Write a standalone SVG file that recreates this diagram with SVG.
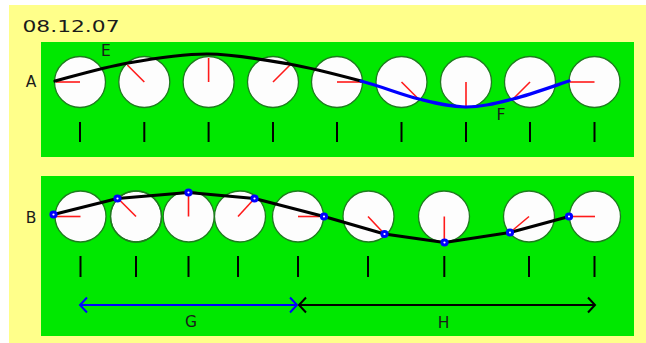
<svg xmlns="http://www.w3.org/2000/svg" width="646" height="343" viewBox="0 0 646 343">
<defs>
<style>
.bg{fill:#ffff8a}
.panel{fill:#00e800}
.wheel{fill:#fdfdfd;stroke:#1f7a1f;stroke-width:1.3}
.hand{stroke:#ff1a1a;stroke-width:1.6;fill:none}
.tick{stroke:#000;stroke-width:2}
.lbl{font-family:"DejaVu Sans","Liberation Sans",sans-serif;font-size:15.5px;fill:#1a1a1a}
.wave{fill:none;stroke-width:3.2;stroke-linejoin:round;stroke-linecap:round}
.dot{fill:#fff;stroke:#0000ff;stroke-width:3}
</style>
<marker id="hb" viewBox="-10 -10 20 20" markerWidth="20" markerHeight="20" markerUnits="userSpaceOnUse" orient="auto-start-reverse" refX="0" refY="0">
<path d="M-7,-7.5 L0,0 L-7,7.5" fill="none" stroke="#0000ff" stroke-width="2"/>
</marker>
<marker id="hk" viewBox="-10 -10 20 20" markerWidth="20" markerHeight="20" markerUnits="userSpaceOnUse" orient="auto-start-reverse" refX="0" refY="0">
<path d="M-7,-7.5 L0,0 L-7,7.5" fill="none" stroke="#000" stroke-width="2"/>
</marker>
</defs>
<rect class="bg" x="9" y="5" width="637" height="338"/>
<text class="lbl" x="22.5" y="32" textLength="97" lengthAdjust="spacingAndGlyphs">08.12.07</text>
<rect id="panelA" class="panel" x="41" y="42" width="593" height="115"/>
<rect id="panelB" class="panel" x="41" y="176" width="593" height="160"/>
<text class="lbl" x="31" y="87" text-anchor="middle">A</text>
<text class="lbl" x="31" y="223" text-anchor="middle">B</text>

<g id="nodesA">
<g id="a1"><circle class="wheel" cx="80" cy="82" r="25.5"/><line class="hand" x1="80" y1="82" x2="56" y2="82"/><line class="tick" x1="80" y1="122" x2="80" y2="142"/></g>
<g id="a2"><circle class="wheel" cx="144.3" cy="82" r="25.5"/><line class="hand" x1="144.3" y1="82" x2="127.3" y2="65"/><line class="tick" x1="144.3" y1="122" x2="144.3" y2="142"/></g>
<g id="a3"><circle class="wheel" cx="208.6" cy="82" r="25.5"/><line class="hand" x1="208.6" y1="82" x2="208.6" y2="58"/><line class="tick" x1="208.6" y1="122" x2="208.6" y2="142"/></g>
<g id="a4"><circle class="wheel" cx="273" cy="82" r="25.5"/><line class="hand" x1="273" y1="82" x2="290" y2="65"/><line class="tick" x1="273" y1="122" x2="273" y2="142"/></g>
<g id="a5"><circle class="wheel" cx="337" cy="82" r="25.5"/><line class="hand" x1="337" y1="82" x2="361" y2="82"/><line class="tick" x1="337" y1="122" x2="337" y2="142"/></g>
<g id="a6"><circle class="wheel" cx="401.5" cy="82" r="25.5"/><line class="hand" x1="401.5" y1="82" x2="418.5" y2="99"/><line class="tick" x1="401.5" y1="122" x2="401.5" y2="142"/></g>
<g id="a7"><circle class="wheel" cx="466" cy="82" r="25.5"/><line class="hand" x1="466" y1="82" x2="466" y2="106"/><line class="tick" x1="466" y1="122" x2="466" y2="142"/></g>
<g id="a8"><circle class="wheel" cx="530" cy="82" r="25.5"/><line class="hand" x1="530" y1="82" x2="513" y2="99"/><line class="tick" x1="530" y1="122" x2="530" y2="142"/></g>
<g id="a9"><circle class="wheel" cx="594.5" cy="82" r="25.5"/><line class="hand" x1="594.5" y1="82" x2="570" y2="82"/><line class="tick" x1="594.5" y1="122" x2="594.5" y2="142"/></g>
</g>

<g id="nodesB">
<g id="b-fills">
<circle class="wheel" cx="80.5" cy="216.5" r="25.5"/>
<circle class="wheel" cx="136" cy="216.5" r="25.5"/>
<circle class="wheel" cx="188.7" cy="216.5" r="25.5" style="stroke:none"/>
<circle class="wheel" cx="240" cy="216.5" r="25.5" style="stroke:none"/>
<circle class="wheel" cx="298" cy="216.5" r="25.5"/>
<circle class="wheel" cx="368.5" cy="216.5" r="25.5"/>
<circle class="wheel" cx="444" cy="216.5" r="25.5"/>
<circle class="wheel" cx="529" cy="216.5" r="25.5"/>
<circle class="wheel" cx="595" cy="216.5" r="25.5"/>
<circle cx="136" cy="216.5" r="25.5" fill="none" stroke="#1f7a1f" stroke-width="1.3"/>
<circle cx="188.7" cy="216.5" r="25.5" fill="none" stroke="#1f7a1f" stroke-width="1.3"/>
<circle cx="240" cy="216.5" r="25.5" fill="none" stroke="#1f7a1f" stroke-width="1.3"/>
</g>
<g id="b1"><line class="hand" x1="80.5" y1="216.5" x2="55" y2="216.5"/><line class="tick" x1="80.5" y1="256" x2="80.5" y2="277"/></g>
<g id="b2"><line class="hand" x1="136" y1="216.5" x2="118" y2="198.5"/><line class="tick" x1="136" y1="256" x2="136" y2="277"/></g>
<g id="b3"><line class="hand" x1="188.5" y1="216.5" x2="188.5" y2="192.5"/><line class="tick" x1="188.5" y1="256" x2="188.5" y2="277"/></g>
<g id="b4"><line class="hand" x1="238" y1="216.5" x2="254.5" y2="198.5"/><line class="tick" x1="238" y1="256" x2="238" y2="277"/></g>
<g id="b5"><line class="hand" x1="298" y1="216.5" x2="324" y2="216.5"/><line class="tick" x1="298" y1="256" x2="298" y2="277"/></g>
<g id="b6"><line class="hand" x1="368" y1="216.5" x2="384.5" y2="234"/><line class="tick" x1="368" y1="256" x2="368" y2="277"/></g>
<g id="b7"><line class="hand" x1="444.3" y1="216.5" x2="444.3" y2="242.5"/><line class="tick" x1="444.3" y1="256" x2="444.3" y2="277"/></g>
<g id="b8"><line class="hand" x1="529" y1="216.5" x2="510" y2="232.5"/><line class="tick" x1="529" y1="256" x2="529" y2="277"/></g>
<g id="b9"><line class="hand" x1="595" y1="216.5" x2="569" y2="216.5"/><line class="tick" x1="594.5" y1="256" x2="594.5" y2="277"/></g>
</g>

<g id="connectors">
<path class="wave" stroke="#000" d="M55,81 C67,78 102.5,67.5 128,63 C153.5,58.5 181.2,53.8 208,54 C234.8,54.2 263.5,59.5 289,64 C314.5,68.5 339.3,75.2 361,81"/>
<path class="wave" stroke="#0000ff" d="M361,81 C382.7,86.8 401.5,94.7 419,99 C436.5,103.3 450.3,107 466,107 C481.7,107 495.8,103.3 513,99 C530.2,94.7 559.7,84 569,81"/>
<polyline class="wave" stroke="#000" stroke-width="3" points="53.5,214.5 117.5,198.5 188.5,192.5 254.5,198.5 324,216.5 384.5,234 444.5,242.5 510,232.5 569,216.5"/>
<g id="points">
<circle class="dot" cx="53.5" cy="214.5" r="2.6"/>
<circle class="dot" cx="117.5" cy="198.5" r="2.6"/>
<circle class="dot" cx="188.5" cy="192.5" r="2.6"/>
<circle class="dot" cx="254.5" cy="198.5" r="2.6"/>
<circle class="dot" cx="324" cy="216.5" r="2.6"/>
<circle class="dot" cx="384.5" cy="234" r="2.6"/>
<circle class="dot" cx="444.5" cy="242.5" r="2.6"/>
<circle class="dot" cx="510" cy="232.5" r="2.6"/>
<circle class="dot" cx="569" cy="216.5" r="2.6"/>
</g>
<line x1="80" y1="305" x2="297" y2="305" stroke="#0000ff" stroke-width="2" marker-start="url(#hb)" marker-end="url(#hb)"/>
<line x1="299" y1="305" x2="595" y2="305" stroke="#000" stroke-width="2" marker-start="url(#hk)" marker-end="url(#hk)"/>
</g>

<text class="lbl" x="106" y="56" text-anchor="middle">E</text>
<text class="lbl" x="501" y="120" text-anchor="middle">F</text>
<text class="lbl" x="191" y="327" text-anchor="middle">G</text>
<text class="lbl" x="443.5" y="328" text-anchor="middle">H</text>
</svg>
